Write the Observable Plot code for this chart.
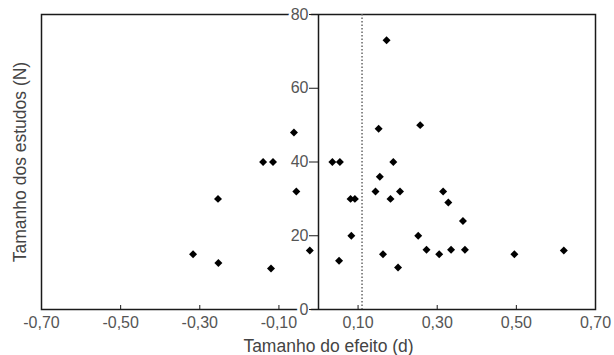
<!DOCTYPE html>
<html><head><meta charset="utf-8">
<script src="https://cdn.jsdelivr.net/npm/d3@7"></script>
<script src="https://cdn.jsdelivr.net/npm/@observablehq/plot@0.6"></script>
<style>body{margin:0;background:#fff} svg{display:block}</style>
</head><body><div id="chart"></div>
<script>
const effect =     [-0.317,-0.254,-0.253,-0.140,-0.120,-0.115,-0.062,-0.056,-0.022,
                    0.035,0.052,0.054,0.081,0.083,0.092,0.144,0.152,0.155,0.163,0.172,0.182,0.189,0.201,0.206,
                    0.252,0.257,0.273,0.305,0.315,0.328,0.335,0.365,0.370,0.495,0.620];
const sampleSize = [15,30,12.6,40,11.1,40,48,32,16,
                    40,13.2,40,30,20,30,32,49,36,15,73,30,40,11.4,32,
                    20,50,16.2,15,32,29,16.2,24,16.2,15,16];
const xTicks = [-0.7,-0.5,-0.3,-0.1,0.1,0.3,0.5,0.7];
const yTicks = [0,20,40,60,80];
const meanEffect = 0.11;
const xTitle = "Tamanho do efeito (d)";
const yTitle = "Tamanho dos estudos (N)";

const points = effect.map((d,i)=>({d, n: sampleSize[i]}));
const fmt = v => v.toFixed(2).replace(".", ",");
const ink = "#1a1a1a";
const chart = Plot.plot({
  width:614, height:355, marginLeft:41, marginRight:19, marginTop:14, marginBottom:46,
  style: {fontFamily: "'Liberation Sans', Arial, sans-serif", background: "#fff"},
  x: {domain: [-0.7,0.7], label: null},
  y: {domain: [0,80], label: null, axis: null},
  marks: [
    Plot.frame({stroke: ink, strokeWidth: 1.5}),
    Plot.ruleX([meanEffect], {stroke: "#666", strokeWidth: 1.5, strokeDasharray: "1.5,2"}),
    Plot.ruleX([0], {stroke: ink, strokeWidth: 1.5}),
    Plot.axisX(xTicks, {tickSize: 0, tickPadding: 7, tickFormat: fmt, fontSize: 16, color: "#555", label: null}),
    Plot.ruleX(xTicks, {y1: 0, y2: 0, insetTop: -4, stroke: ink}),
    Plot.text(yTicks, {x: 0, y: d => d, text: d => String(d), textAnchor: "end", dx: -10, fontSize: 16, fill: "#555", stroke: "white", strokeWidth: 6}),
    Plot.ruleY(yTicks, {x1: 0, x2: 0, insetLeft: -9, stroke: ink}),
    Plot.text([xTitle], {text: d => d, frameAnchor: "bottom", lineAnchor: "middle", textAnchor: "middle", dy: 37, dx: 10, fontSize: 17.5, fill: "#444"}),
    Plot.text([yTitle], {text: d => d, frameAnchor: "left", lineAnchor: "middle", textAnchor: "middle", dx: -21, rotate: -90, fontSize: 17.5, fill: "#444"}),
    Plot.dot(points, {x: "d", y: "n", symbol: "diamond2", r: 3.6, fill: "#000", stroke: null})
  ]
});
document.getElementById("chart").append(chart);
</script>
</body></html>
